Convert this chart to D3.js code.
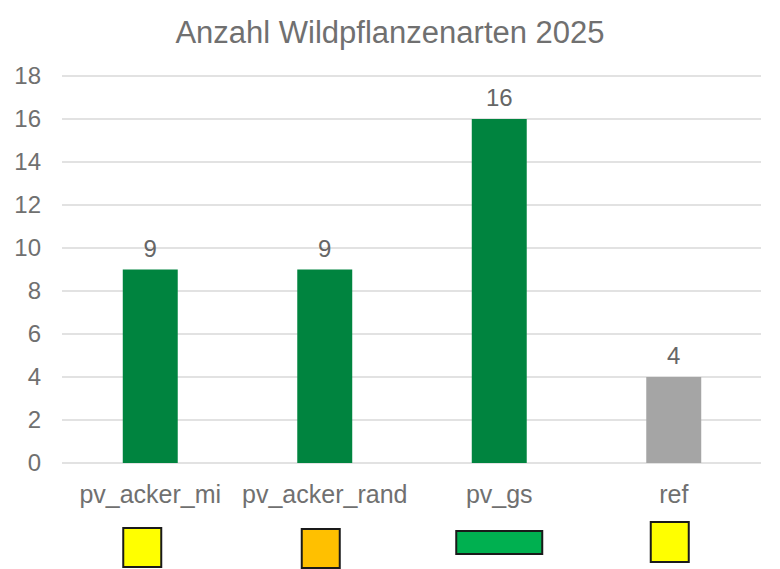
<!DOCTYPE html>
<html><head><meta charset="utf-8">
<script src="https://cdn.jsdelivr.net/npm/d3@7"></script>
<style>body{margin:0;background:#fff}svg{display:block}text{font-family:"Liberation Sans",Arial,sans-serif}</style>
</head><body>
<svg id="c" width="780" height="569"></svg>
<script>
const title = "Anzahl Wildpflanzenarten 2025";
const categories = ["pv_acker_mi","pv_acker_rand","pv_gs","ref"];
const values = [9, 9, 16, 4];
const barColors = ["#00843F","#00843F","#00843F","#A5A5A5"];
const markerColors = ["#FFFF00","#FFC000","#00B050","#FFFF00"];
const yTicks = [0,2,4,6,8,10,12,14,16,18];

const svg = d3.select("#c");
const m = {l:63, r:19, t:76, b:106};
const W = 780, H = 569;
const x = d3.scaleBand().domain(categories).range([m.l, W-m.r]).paddingInner(0.685).paddingOuter(0.3425);
const y = d3.scaleLinear().domain([0,18]).range([H-m.b, m.t]);

svg.append("text").attr("x", 390).attr("y", 43).attr("text-anchor","middle")
  .attr("font-size", 31).attr("fill","#707070").text(title);

svg.append("g").selectAll("line").data(yTicks).join("line")
  .attr("x1", m.l-1).attr("x2", W-m.r)
  .attr("y1", d=>y(d)).attr("y2", d=>y(d))
  .attr("stroke","#D9D9D9").attr("stroke-width",1.3);

const yAxis = svg.append("g").attr("transform",`translate(${m.l-22},0)`)
  .call(d3.axisLeft(y).tickValues(yTicks).tickSize(0).tickPadding(0));
yAxis.select(".domain").remove();
yAxis.selectAll("text").attr("font-size",24).attr("fill","#707070").attr("font-family","Liberation Sans, Arial, sans-serif");

svg.append("g").selectAll("rect").data(values).join("rect")
  .attr("x",(d,i)=>x(categories[i])).attr("width",x.bandwidth())
  .attr("y",d=>y(d)).attr("height",d=>y(0)-y(d))
  .attr("fill",(d,i)=>barColors[i]);

svg.append("g").selectAll("text").data(values).join("text")
  .attr("x",(d,i)=>x(categories[i])+x.bandwidth()/2).attr("y",d=>y(d)-13)
  .attr("text-anchor","middle").attr("font-size",24).attr("fill","#666666").text(d=>d);

const xAxis = svg.append("g").attr("transform",`translate(0,${y(0)})`)
  .call(d3.axisBottom(x).tickSize(0).tickPadding(22));
xAxis.select(".domain").remove();
xAxis.selectAll("text").attr("font-size",25).attr("fill","#707070").attr("dy","0.71em").attr("font-family","Liberation Sans, Arial, sans-serif");

const mk = [
  {dx:-8, w:38, h:39, y:528},
  {dx:-4, w:38, h:39, y:529},
  {dx:0,  w:86, h:23, y:531},
  {dx:-4, w:38, h:40, y:522}
];
svg.append("g").selectAll("rect").data(markerColors).join("rect")
  .attr("x",(d,i)=>x(categories[i])+x.bandwidth()/2+mk[i].dx-mk[i].w/2)
  .attr("y",(d,i)=>mk[i].y).attr("width",(d,i)=>mk[i].w).attr("height",(d,i)=>mk[i].h)
  .attr("fill",d=>d).attr("stroke","#1a1a1a").attr("stroke-width",2);
</script>
</body></html>
